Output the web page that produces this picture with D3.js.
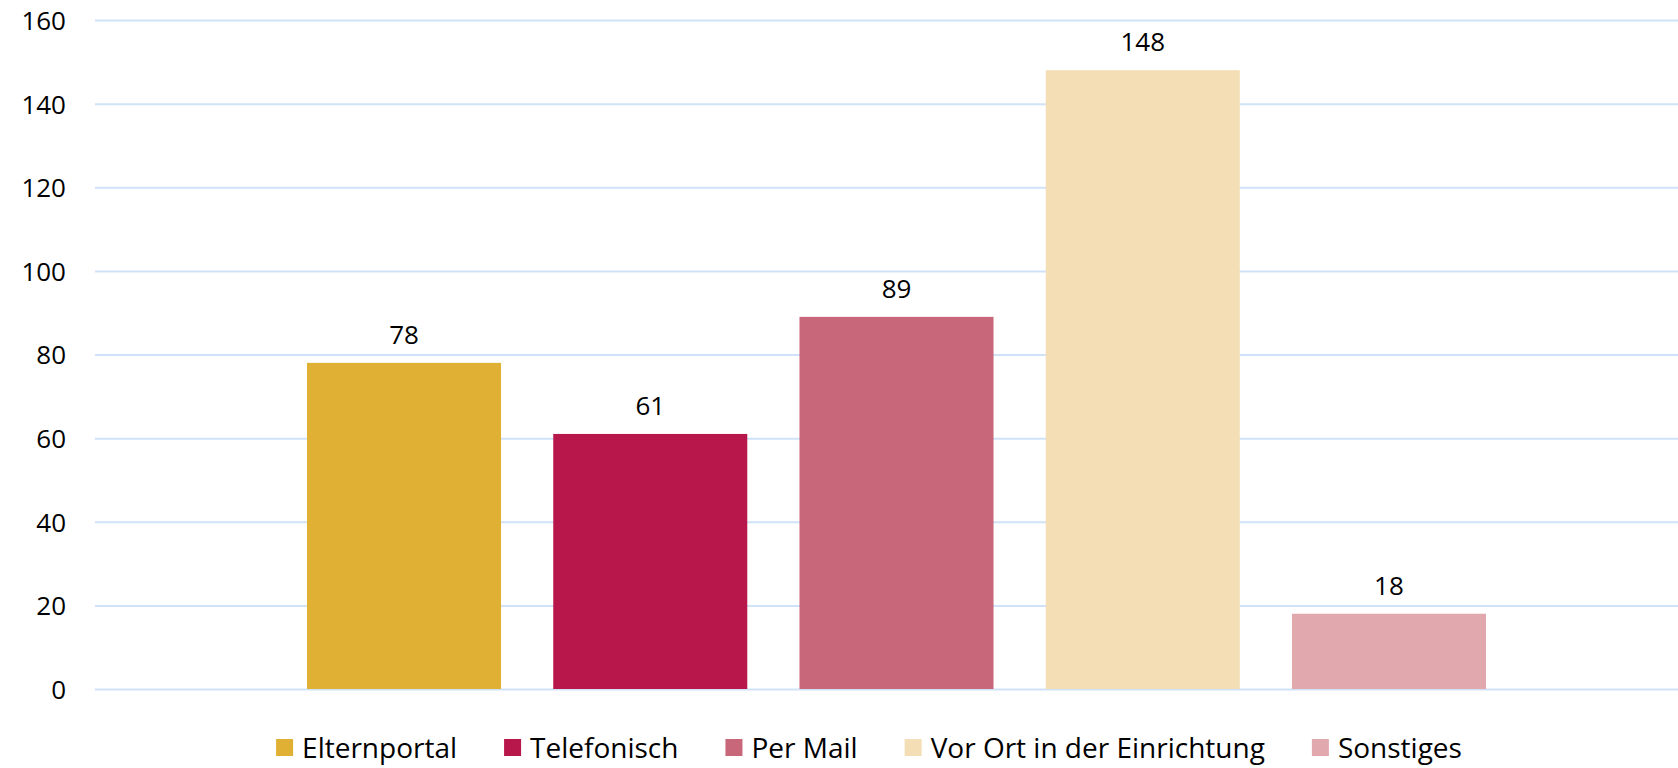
<!DOCTYPE html>
<html>
<head>
<meta charset="UTF-8">
<title>kontaktwege</title>
<style type="text/css">
	body { margin: 0; background: #fff; }
	text { font-family: "Open Sans", sans-serif; fill: #000; }
	.tick text { font-size: 26px; }
	.amount { font-size: 26px; text-anchor: middle; }
	.legend text { font-size: 28px; }
	.grid line { stroke: #cfe2f7; stroke-width: 2px; }
	.grid path { display: none; }
</style>
<script type="text/javascript" src="https://cdn.jsdelivr.net/npm/d3@7"></script>
</head>
<body>
<div id="div_main"></div>
<script type="text/javascript">

	var names = ["Elternportal", "Telefonisch", "Per Mail", "Vor Ort in der Einrichtung", "Sonstiges"];
	var amounts = [78, 61, 89, 148, 18];
	var colors = ["#e0b034", "#b8174c", "#c9677a", "#f3deb5", "#e1a8ae"];
	var ticks = [0, 20, 40, 60, 80, 100, 120, 140, 160];

	var svg_w = 1678, svg_h = 768;

	var svg = d3.select("#div_main")
		.append("svg")
			.attr("width", svg_w)
			.attr("height", svg_h);

	// scales
	var scaleY = d3.scaleLinear()
		.domain([0, 160])
		.range([689, 20]);

	var scaleX = d3.scaleBand()
		.domain(names)
		.range([307, 1486])
		.paddingInner(0.212);

	// grid + y axis labels
	var grid = svg.append("g")
		.attr("class", "grid")
		.attr("transform", "translate(95,0)")
		.call(d3.axisLeft(scaleY).tickValues(ticks).tickSize(-1583).tickPadding(29).tickFormat(d3.format("d")));

	grid.selectAll(".tick text").attr("dy", "0.36em");
	grid.selectAll(".tick line").attr("x1", 0).attr("x2", 1583);

	// bars
	svg.selectAll("rect.bar")
		.data(amounts)
		.enter()
		.append("rect")
			.attr("class", "bar")
			.attr("x", function (d, i) { return scaleX(names[i]); })
			.attr("y", function (d) { return scaleY(d); })
			.attr("width", scaleX.bandwidth())
			.attr("height", function (d) { return scaleY(0) - scaleY(d); })
			.attr("fill", function (d, i) { return colors[i]; });

	// value labels
	svg.selectAll("text.amount")
		.data(amounts)
		.enter()
		.append("text")
			.attr("class", "amount")
			.attr("x", function (d, i) { return scaleX(names[i]) + scaleX.bandwidth() / 2; })
			.attr("y", function (d) { return scaleY(d) - 19; })
			.text(function (d) { return d; });

	// legend
	var legend = svg.append("g").attr("class", "legend");
	var items = legend.selectAll("g")
		.data(names)
		.enter()
		.append("g");

	items.append("rect")
		.attr("width", 17)
		.attr("height", 17)
		.attr("y", 739)
		.attr("fill", function (d, i) { return colors[i]; });

	items.append("text")
		.attr("x", 26)
		.attr("y", 758)
		.text(function (d) { return d; });

	var offsets = [], pos = 0;
	items.each(function () {
		offsets.push(pos);
		pos += 26 + this.querySelector("text").getComputedTextLength() + 47;
	});
	var total = pos - 47;
	var start = 869 - total / 2;
	items.attr("transform", function (d, i) { return "translate(" + (start + offsets[i]) + ",0)"; });

</script>
</body>
</html>
